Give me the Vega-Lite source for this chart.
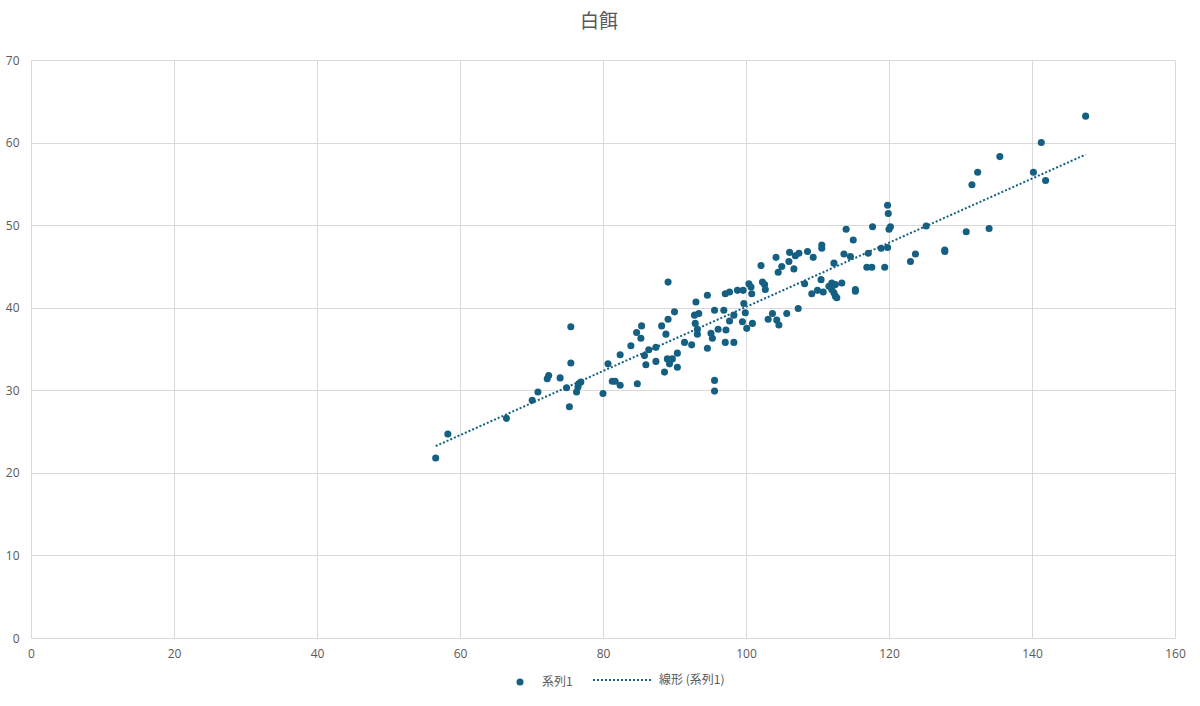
{
  "$schema": "https://vega.github.io/schema/vega-lite/v6.json",
  "width": 1144,
  "height": 578,
  "autosize": {"type": "none"},
  "padding": {"left": 31, "top": 60, "right": 25, "bottom": 68},
  "background": "white",
  "title": {
    "text": "白餌",
    "font": "Noto Sans CJK JP",
    "fontSize": 19,
    "fontWeight": "normal",
    "color": "#595959",
    "anchor": "middle",
    "dx": -4,
    "offset": 22
  },
  "config": {
    "view": {"stroke": null},
    "axis": {
      "labelFont": "Open Sans",
      "labelFontSize": 12,
      "labelColor": "#595959",
      "labelFlush": false,
      "gridColor": "#d9d9d9",
      "gridWidth": 1,
      "ticks": false,
      "domain": false,
      "title": null
    },
    "legend": {
      "labelFont": "Noto Sans CJK JP",
      "labelFontSize": 12,
      "labelColor": "#595959",
      "title": null
    }
  },
  "data": {
    "values": [
      {"x": 56.6, "y": 21.8}, {"x": 58.3, "y": 24.7}, {"x": 66.5, "y": 26.6},
      {"x": 70.1, "y": 28.8}, {"x": 70.9, "y": 29.8}, {"x": 72.2, "y": 31.4},
      {"x": 72.4, "y": 31.8}, {"x": 74.0, "y": 31.5}, {"x": 75.5, "y": 37.7},
      {"x": 75.5, "y": 33.3}, {"x": 74.9, "y": 30.3}, {"x": 75.3, "y": 28.0},
      {"x": 76.3, "y": 29.8}, {"x": 76.5, "y": 30.4}, {"x": 76.6, "y": 30.8},
      {"x": 76.9, "y": 31.0}, {"x": 80.0, "y": 29.6}, {"x": 80.7, "y": 33.2},
      {"x": 81.3, "y": 31.1}, {"x": 81.7, "y": 31.1}, {"x": 82.4, "y": 30.6},
      {"x": 82.4, "y": 34.3}, {"x": 83.9, "y": 35.4}, {"x": 84.7, "y": 37.0},
      {"x": 85.4, "y": 37.8}, {"x": 85.3, "y": 36.3}, {"x": 84.8, "y": 30.8},
      {"x": 85.8, "y": 34.2}, {"x": 86.0, "y": 33.1}, {"x": 86.4, "y": 34.9},
      {"x": 87.4, "y": 35.2}, {"x": 87.4, "y": 33.5}, {"x": 88.2, "y": 37.8},
      {"x": 88.8, "y": 36.8}, {"x": 89.1, "y": 43.1}, {"x": 89.1, "y": 38.6},
      {"x": 90.0, "y": 39.5}, {"x": 88.6, "y": 32.2}, {"x": 89.0, "y": 33.8},
      {"x": 89.3, "y": 33.2}, {"x": 89.7, "y": 33.8}, {"x": 90.4, "y": 34.5},
      {"x": 90.4, "y": 32.8}, {"x": 91.4, "y": 35.8}, {"x": 92.4, "y": 35.5},
      {"x": 93.0, "y": 40.7}, {"x": 92.8, "y": 39.1}, {"x": 93.4, "y": 39.3},
      {"x": 92.9, "y": 38.1}, {"x": 93.2, "y": 37.4}, {"x": 93.2, "y": 36.8},
      {"x": 94.6, "y": 41.5}, {"x": 94.6, "y": 35.1}, {"x": 95.1, "y": 36.9},
      {"x": 95.3, "y": 36.3}, {"x": 95.6, "y": 39.7}, {"x": 95.6, "y": 31.2},
      {"x": 95.6, "y": 29.9}, {"x": 96.1, "y": 37.4}, {"x": 96.9, "y": 39.7},
      {"x": 97.2, "y": 37.3}, {"x": 97.1, "y": 35.8}, {"x": 97.1, "y": 41.7},
      {"x": 97.7, "y": 41.9}, {"x": 97.7, "y": 38.4}, {"x": 98.3, "y": 39.1},
      {"x": 98.3, "y": 35.8}, {"x": 98.8, "y": 42.1}, {"x": 99.6, "y": 42.1},
      {"x": 99.7, "y": 40.5}, {"x": 99.5, "y": 38.3}, {"x": 99.9, "y": 39.4},
      {"x": 100.1, "y": 37.5}, {"x": 100.9, "y": 38.1}, {"x": 100.4, "y": 42.9},
      {"x": 100.7, "y": 42.5}, {"x": 100.8, "y": 41.7}, {"x": 110.6, "y": 47.6},
      {"x": 110.6, "y": 47.2}, {"x": 108.6, "y": 46.8}, {"x": 109.4, "y": 46.1},
      {"x": 112.3, "y": 45.4}, {"x": 106.1, "y": 46.7}, {"x": 106.9, "y": 46.3},
      {"x": 107.4, "y": 46.6}, {"x": 106.0, "y": 45.6}, {"x": 105.0, "y": 45.0},
      {"x": 104.5, "y": 44.3}, {"x": 106.7, "y": 44.7}, {"x": 104.2, "y": 46.1},
      {"x": 102.1, "y": 45.1}, {"x": 102.3, "y": 43.1}, {"x": 102.6, "y": 42.8},
      {"x": 102.7, "y": 42.2}, {"x": 108.2, "y": 42.9}, {"x": 110.5, "y": 43.4},
      {"x": 109.2, "y": 41.7}, {"x": 110.0, "y": 42.1}, {"x": 110.8, "y": 41.9},
      {"x": 111.6, "y": 42.6}, {"x": 112.0, "y": 42.2}, {"x": 112.5, "y": 41.4},
      {"x": 112.5, "y": 42.8}, {"x": 107.3, "y": 39.9}, {"x": 105.7, "y": 39.3},
      {"x": 103.7, "y": 39.3}, {"x": 103.1, "y": 38.6}, {"x": 104.3, "y": 38.5},
      {"x": 104.6, "y": 37.9}, {"x": 119.8, "y": 52.4}, {"x": 119.9, "y": 51.4},
      {"x": 120.2, "y": 49.8}, {"x": 120.0, "y": 49.5}, {"x": 117.7, "y": 49.8},
      {"x": 114.0, "y": 49.5}, {"x": 115.0, "y": 48.2}, {"x": 113.7, "y": 46.5},
      {"x": 114.6, "y": 46.2}, {"x": 117.1, "y": 46.6}, {"x": 118.9, "y": 47.2},
      {"x": 119.8, "y": 47.3}, {"x": 116.9, "y": 44.9}, {"x": 117.6, "y": 44.9},
      {"x": 119.4, "y": 44.9}, {"x": 123.0, "y": 45.6}, {"x": 123.7, "y": 46.5},
      {"x": 125.2, "y": 49.9}, {"x": 127.8, "y": 47.0}, {"x": 127.8, "y": 46.8},
      {"x": 113.4, "y": 43.0}, {"x": 112.0, "y": 43.0}, {"x": 115.3, "y": 42.2},
      {"x": 115.3, "y": 42.0}, {"x": 147.5, "y": 63.2}, {"x": 141.3, "y": 60.0},
      {"x": 135.5, "y": 58.3}, {"x": 132.4, "y": 56.4}, {"x": 131.6, "y": 54.9},
      {"x": 140.2, "y": 56.4}, {"x": 141.9, "y": 55.4}, {"x": 134.0, "y": 49.6},
      {"x": 130.8, "y": 49.2}, {"x": 112.3, "y": 41.8}, {"x": 112.7, "y": 41.2}
    ]
  },
  "layer": [
    {
      "mark": {"type": "point", "filled": true, "opacity": 1, "size": 50, "color": "#156082"},
      "encoding": {
        "x": {
          "field": "x", "type": "quantitative",
          "scale": {"domain": [0, 160], "nice": false},
          "axis": {"values": [0, 20, 40, 60, 80, 100, 120, 140, 160], "labelPadding": 10}
        },
        "y": {
          "field": "y", "type": "quantitative",
          "scale": {"domain": [0, 70], "nice": false},
          "axis": {"values": [0, 10, 20, 30, 40, 50, 60, 70], "labelPadding": 12}
        },
        "shape": {
          "datum": "系列1",
          "scale": {"domain": ["系列1"], "range": ["circle"]},
          "legend": {
            "orient": "none",
            "legendX": 483,
            "legendY": 616,
            "labelOffset": 16,
            "symbolSize": 50,
            "symbolFillColor": "#156082",
            "symbolStrokeWidth": 0
          }
        }
      }
    },
    {
      "transform": [{"regression": "y", "on": "x"}],
      "mark": {"type": "line", "color": "#156082", "strokeWidth": 2},
      "encoding": {
        "x": {"field": "x", "type": "quantitative"},
        "y": {"field": "y", "type": "quantitative"},
        "strokeDash": {
          "datum": "線形 (系列1)",
          "scale": {"domain": ["線形 (系列1)"], "range": [[2, 2]]},
          "legend": {
            "orient": "none",
            "legendX": 561,
            "legendY": 589,
            "labelOffset": 5,
            "symbolSize": 3600,
            "symbolStrokeWidth": 2,
            "symbolStrokeColor": "#156082"
          }
        }
      }
    }
  ]
}
